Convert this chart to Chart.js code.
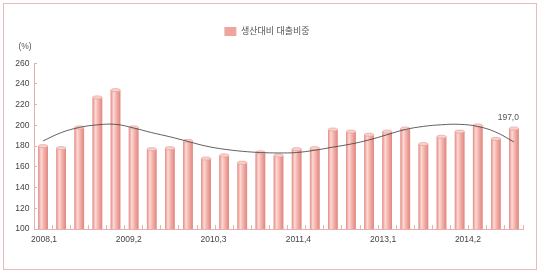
<!DOCTYPE html>
<html>
<head>
<meta charset="utf-8">
<script src="https://cdn.jsdelivr.net/npm/chart.js@4/dist/chart.umd.min.js"></script>
<style>
  html, body { margin: 0; padding: 0; background: #fff; }
  #wrap { position: relative; width: 540px; height: 273px; }
  #frame { position: absolute; left: 3px; top: 3px; width: 532px; height: 265px; border: 1px solid #e6bcbc; pointer-events: none; }
</style>
</head>
<body>
<div id="wrap">
  <canvas id="myChart" width="540" height="273"></canvas>
  <div id="frame"></div>
</div>
<script>
// quarters 2008.1 .. 2014.3
const quarters = [
  '2008,1', '2008,2', '2008,3', '2008,4',
  '2009,1', '2009,2', '2009,3', '2009,4',
  '2010,1', '2010,2', '2010,3', '2010,4',
  '2011,1', '2011,2', '2011,3', '2011,4',
  '2012,1', '2012,2', '2012,3', '2012,4',
  '2013,1', '2013,2', '2013,3', '2013,4',
  '2014,1', '2014,2', '2014,3'
];
const ratio = [180, 178, 198, 227, 234, 198, 177, 178, 185, 168, 171, 164, 174, 171,
  177, 178, 196, 194, 191, 194, 197, 182, 189, 194, 200, 187, 197];
const trend = [185, 193, 198, 200.5, 201, 197.5, 193, 189, 184.5, 180, 177, 175, 173.8, 173.4,
  173.8, 176, 179, 182, 186, 191, 196, 199, 200.6, 201, 199, 193.5, 184];
const xTickLabels = ['2008,1', '2009,2', '2010,3', '2011,4', '2013,1', '2014,2'];
const seriesName = '생산대비 대출비중';

const pink = '#e6b0ad';
const font = "'Liberation Sans', 'Noto Sans CJK KR', sans-serif";

// cylinder shading on top of the plain bars
const cylinder = {
  id: 'cylinder',
  afterDatasetDraw(chart, args) {
    if (args.meta.type !== 'bar') return;
    const c = chart.ctx;
    const area = chart.chartArea;
    c.save();
    args.meta.data.forEach(bar => {
      const { x, y, base, width } = bar.getProps(['x', 'y', 'base', 'width'], true);
      const bottom = Math.min(base, area.bottom);
      const l = x - width / 2;
      const g = c.createLinearGradient(l, 0, l + width, 0);
      g.addColorStop(0, '#e58b84');
      g.addColorStop(0.3, '#fcdad6');
      g.addColorStop(0.55, '#f4b7b1');
      g.addColorStop(1, '#e2857e');
      c.fillStyle = g;
      c.fillRect(l, y, width, bottom - y);
      c.beginPath();
      c.ellipse(x, y, width / 2, 1.6, 0, 0, Math.PI * 2);
      c.fillStyle = '#f9d2ce';
      c.fill();
      c.strokeStyle = '#e39891';
      c.lineWidth = 0.6;
      c.stroke();
    });
    c.restore();
  }
};

// "(%)" unit and the last value label
const extras = {
  id: 'extras',
  afterDraw(chart) {
    const c = chart.ctx;
    const y = chart.scales.y;
    c.save();
    c.font = '8.5px ' + font;
    c.fillStyle = '#555';
    c.textAlign = 'center';
    c.textBaseline = 'middle';
    c.fillText('(%)', y.right - 9, chart.chartArea.top - 16.5);
    const bars = chart.getDatasetMeta(1).data;
    const last = bars[bars.length - 1];
    c.textAlign = 'right';
    c.fillText(ratio[ratio.length - 1].toFixed(1).replace('.', ','), last.x + 5, last.y - 11);
    c.restore();
  }
};

new Chart(document.getElementById('myChart'), {
  type: 'bar',
  data: {
    labels: quarters,
    datasets: [
      {
        type: 'line',
        label: 'trend',
        data: trend,
        borderColor: '#3a3a3a',
        borderWidth: 0.8,
        pointRadius: 0,
        tension: 0.4,
        fill: false,
        order: 0
      },
      {
        label: seriesName,
        data: ratio,
        backgroundColor: '#eea59f',
        barPercentage: 0.53,
        categoryPercentage: 1,
        order: 1
      }
    ]
  },
  options: {
    responsive: false,
    animation: false,
    devicePixelRatio: 1,
    layout: { padding: { left: 11, right: 17, top: 2, bottom: 26 } },
    plugins: {
      legend: {
        position: 'top',
        labels: {
          filter: item => item.text === seriesName,
          boxWidth: 12,
          boxHeight: 9,
          padding: 25,
          color: '#555',
          font: { family: font, size: 9 }
        }
      },
      // empty spacer between legend and plot (room for the unit label)
      title: {
        display: true,
        text: '',
        weight: 500,
        font: { size: 8.5 },
        padding: { top: 7, bottom: 0 }
      },
      tooltip: { enabled: false }
    },
    scales: {
      x: {
        grid: { offset: true, drawOnChartArea: false, tickLength: -4, color: pink },
        border: { color: pink },
        ticks: { display: false },
        afterFit: s => { s.height = 2; }
      },
      x2: {
        type: 'linear',
        position: 'bottom',
        offset: false,
        min: -0.118,
        max: 5.65,
        grid: { display: false },
        border: { display: false },
        afterBuildTicks: s => { s.ticks = xTickLabels.map((_, i) => ({ value: i })); },
        ticks: {
          padding: -4,
          color: '#444',
          font: { family: font, size: 8.5 },
          callback: v => xTickLabels[v]
        },
        afterFit: s => { s.height = 16; }
      },
      y: {
        min: 100,
        max: 260,
        ticks: { stepSize: 20, padding: 7.5, color: '#444', font: { family: font, size: 8.5 } },
        grid: { drawOnChartArea: false, tickLength: -3, color: pink },
        border: { color: pink },
        afterFit: s => { s.width = 23; }
      }
    }
  },
  plugins: [cylinder, extras]
});
</script>
</body>
</html>
